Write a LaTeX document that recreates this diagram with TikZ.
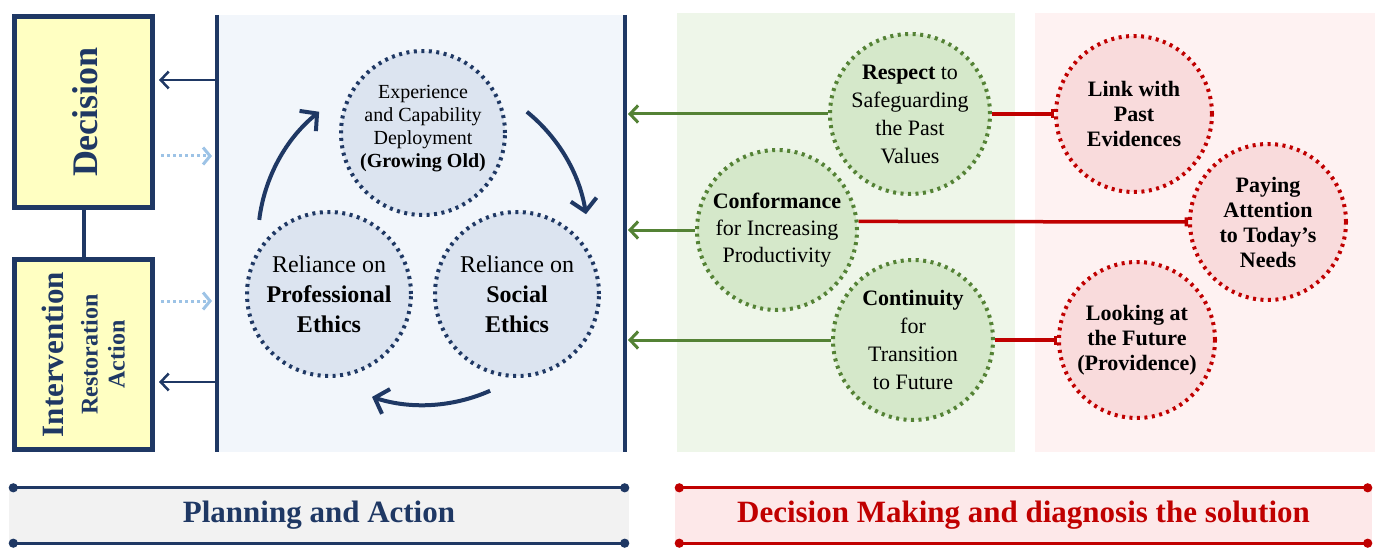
\documentclass[tikz,border=0pt]{standalone}
\usepackage{fontspec}
\setmainfont{Liberation Serif}
\usetikzlibrary{arrows.meta,calc,positioning}
\definecolor{Navy}{HTML}{1F3864}
\definecolor{Sky}{HTML}{9DC3E6}
\definecolor{Butter}{HTML}{FFFFC2}
\definecolor{Frost}{HTML}{F2F6FB}
\definecolor{Ice}{HTML}{DCE4F0}
\definecolor{Leaf}{HTML}{548235}
\definecolor{Sprout}{HTML}{EEF6E9}
\definecolor{Moss}{HTML}{D5E8CA}
\definecolor{Wine}{HTML}{C00000}
\definecolor{Blush}{HTML}{FEF2F2}
\definecolor{Rose}{HTML}{F9DBDC}
\definecolor{Ash}{HTML}{F2F2F2}
\definecolor{Petal}{HTML}{FDE8E9}
\tikzset{
  sidebox/.style={draw=Navy,fill=Butter,line width=5pt,minimum width=138pt,minimum height=191pt,inner sep=0pt},
  sidetext/.style={rotate=90,text=Navy,align=center,inner sep=0pt},
  ring/.style={circle,line width=4pt,dash pattern=on 3pt off 4.5pt,align=center,inner sep=0pt,text=black},
  bluering/.style={ring,draw=Navy,fill=Ice,minimum size=164pt},
  greenring/.style={ring,draw=Leaf,fill=Moss,minimum size=160pt,font=\rmfamily\fontsize{22}{28}\selectfont},
  redring/.style={ring,draw=Wine,fill=Rose,minimum size=156pt,font=\rmfamily\fontsize{22}{25}\selectfont\bfseries},
  backarrow/.style={-{Straight Barb[length=8pt,width=17pt]},line width=2.5pt,draw=Navy},
  hintarrow/.style={-{Straight Barb[length=7pt,width=17pt]},line width=3pt,draw=Sky,dash pattern=on 3pt off 3pt},
  cyclearrow/.style={-{Straight Barb[length=12pt,width=26pt]},line width=4pt,draw=Navy},
  greenarrow/.style={-{Straight Barb[length=8pt,width=17pt]},line width=3pt,draw=Leaf},
  redlink/.style={-{Bar[width=9pt]},line width=3.5pt,draw=Wine},
  banner/.style={minimum height=55pt,inner sep=0pt,font=\rmfamily\fontsize{31}{36}\selectfont\bfseries},
  banline/.style={{Circle[length=9pt]}-{Circle[length=9pt]},line width=3pt},
}

\begin{document}
\begin{tikzpicture}[x=1pt,y=-1pt]
  \useasboundingbox (0,0) rectangle (1381,548);

  % panels
  \fill[Frost] (217,15) rectangle (625,452);
  \fill[Sprout] (677,13) rectangle (1015,452);
  \fill[Blush] (1035,13) rectangle (1375,452);

  % left side boxes
  \node[sidebox] (dec) at (83.5,112) {};
  \node[sidebox,minimum height=190pt] (int) at (83.5,354.5) {};
  \draw[Navy,line width=4pt] (dec.south) -- (int.north);
  \node[sidetext,font=\rmfamily\fontsize{36}{40}\selectfont\bfseries] (dectxt) at ([xshift=2pt]dec.center) {Decision};
  \node[sidetext,font=\rmfamily\fontsize{24}{27}\selectfont\bfseries] (inttxt) at (int.center)
    {{\fontsize{31}{36}\selectfont Intervention}\\[7pt]Restoration\\Action};

  % bus lines
  \coordinate (lbtop) at (217,15);
  \coordinate (lbbot) at (217,452);
  \coordinate (rbtop) at (625,15);
  \coordinate (rbbot) at (625,452);
  \draw[Navy,line width=3.5pt] (lbtop) -- (lbbot);
  \draw[Navy,line width=3.5pt] (rbtop) -- (rbbot);

  \coordinate (lbA) at (217,80);
  \coordinate (lbB) at (217,156);
  \coordinate (lbC) at (217,301);
  \coordinate (lbD) at (217,382);
  \draw[backarrow,shorten >=4pt] (lbA) -- (lbA -| dec.east);
  \draw[backarrow,shorten >=4pt] (lbD) -- (lbD -| int.east);
  \draw[hintarrow,shorten <=6pt,shorten >=5pt] (lbB -| dec.east) -- (lbB);
  \draw[hintarrow,shorten <=6pt,shorten >=5pt] (lbC -| int.east) -- (lbC);

  % cycle
  \node[bluering,font=\rmfamily\fontsize{20}{23}\selectfont] (exp) at (423,133)
    {Experience\\and Capability\\Deployment\\\textbf{(Growing Old)}\\[-10pt]};
  \node[bluering,font=\rmfamily\fontsize{24}{30}\selectfont] (prof) at (329,294)
    {Reliance on\\\textbf{Professional}\\\textbf{Ethics}};
  \node[bluering,font=\rmfamily\fontsize{24}{30}\selectfont] (soc) at (517,294)
    {Reliance on\\\textbf{Social}\\\textbf{Ethics}};

  \coordinate (hub) at (423,240);
  \draw[cyclearrow] ([shift={(-173:165)}]hub) arc[start angle=-173,end angle=-129,radius=165];
  \draw[cyclearrow] ([shift={(-51:165)}]hub) arc[start angle=-51,end angle=-9,radius=165];
  \draw[cyclearrow] ([shift={(66:165)}]hub) arc[start angle=66,end angle=108,radius=165];

  % green and red rings
  \node[greenring] (resp) at (910,114) {\textbf{Respect} to\\Safeguarding\\the Past\\Values};
  \node[greenring,font=\rmfamily\fontsize{22}{27}\selectfont] (conf) at (777,230)
    {\textbf{Conformance}\\for Increasing\\Productivity};
  \node[greenring] (cont) at (913,340) {\textbf{Continuity}\\for\\Transition\\to Future};

  \node[redring] (link) at (1134,114) {Link with\\Past\\Evidences};
  \node[redring] (pay) at (1268,222) {Paying\\Attention\\to Today's\\Needs};
  \node[redring] (look) at (1137,340) {Looking at\\the Future\\(Providence)};

  \draw[greenarrow,shorten >=3pt] (resp.west) -- (resp.west -| rbtop);
  \draw[greenarrow,shorten >=3pt] (conf.west) -- (conf.west -| rbtop);
  \draw[greenarrow,shorten >=3pt] (cont.west) -- (cont.west -| rbtop);

  \draw[redlink] (resp.east) -- (link.west);
  \draw[redlink] (conf.6) -- (pay.west);
  \draw[redlink] (cont.east) -- (look.west);

  % banners
  \node[banner,fill=Ash,text=Navy,minimum width=620pt] (plan) at (319,515.5) {Planning and Action};
  \draw[banline,Navy] (plan.north west) -- (plan.north east);
  \draw[banline,Navy] (plan.south west) -- (plan.south east);
  \node[banner,fill=Petal,text=Wine,minimum width=697pt] (dmk) at (1023.5,515.5)
    {Decision Making and diagnosis the solution};
  \draw[banline,Wine] (dmk.north west) -- (dmk.north east);
  \draw[banline,Wine] (dmk.south west) -- (dmk.south east);
\end{tikzpicture}
\end{document}
